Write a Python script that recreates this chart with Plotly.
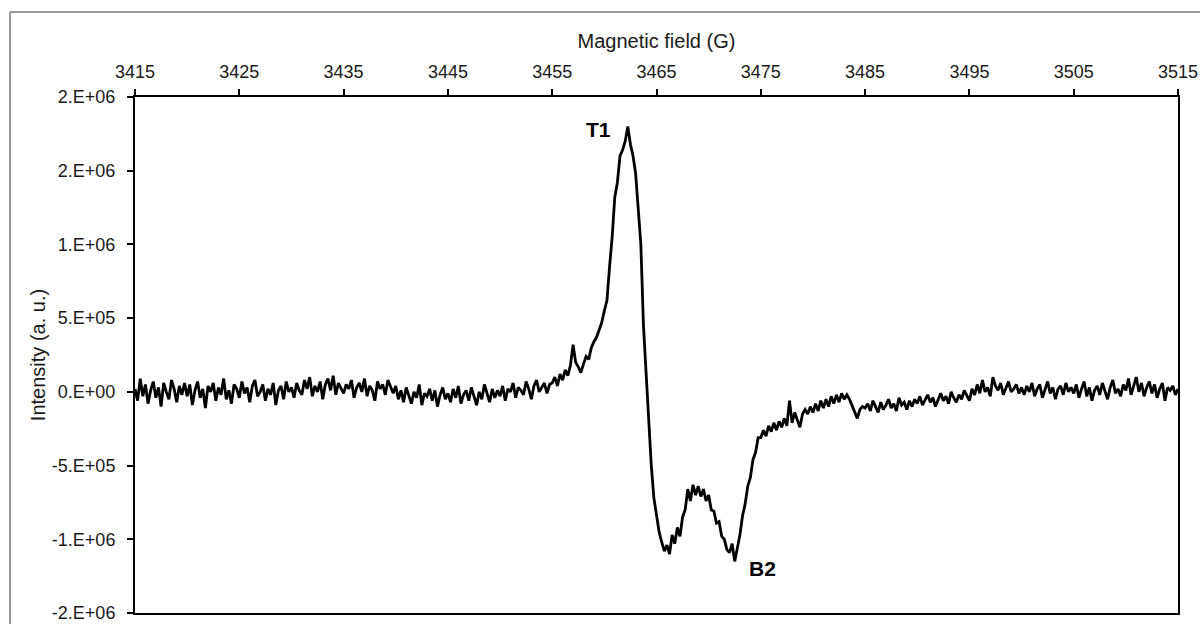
import numpy as np
import plotly.graph_objects as go

# Magnetic field grid (G), 0.25 G steps from 3415 to 3515
field_start = 3415.0
field_step = 0.25

# Intensity values in units of 1e4 a.u.
seg_baseline_left = [
    2, -6, 9, -3, 5, -8, 1, 7, -4, 3, -10, 6, 0, -5, 8, 2, -7, 4, -2, 6,
    -3, 5, -9, 1, 7, -4, 2, -11, 4, 0, 6, -6, 3, -2, 9, -5, 1, -8, 5, 2,
    -4, 7, -1, 3, -7, 4, 8, -3, 0, 5, -6, 2, -2, 6, -9, 1, 4, -5, 7, 0,
    3, -4, 6, 1, -2, 8, 2, 10, -3, 4, 0, 7, -5, 5, 9, 1, 11, -2, 6, 3,
    -1, 5, 2, 8, -4, 3, 6, 0, 9, -3, 4, 1, -6, 7, 2, 5, -2, 8, 3, -1,
    4, -5, 1, -7, 3, -2, -8, 0, -4, 5, -9, -1, -3, 2, -6, 1, -10, -2, 3, -5,
    -1, -7, 2, -4, 4, -8, -2, 1, -6, 3, -3, -9, 0, -5, 5, -2, -7, 2, -4, 1,
    -3, 4, -6, 2, 0, 6, -4, 3, 1, -2, 7, 2, -5, 4, 8, 0, 3, 6, -1, 5,
]
seg_rise = [
    6, 10, 4, 12, 8, 15, 11, 18, 32, 20, 17, 13, 19, 24, 22, 30, 34, 37, 42, 47,
]
seg_peak = [
    55, 62, 85, 105, 132, 142, 160, 164, 170, 180, 168, 160, 148, 125, 100, 45, 10, -20, -50, -72,
]
seg_trough = [
    -85, -95, -102, -108, -104, -110, -97, -103, -92, -98,
    -85, -80, -66, -74, -63, -70, -64, -71, -66, -74,
    -70, -80, -81, -89, -88, -98, -100, -107, -109, -103,
    -115, -106, -97, -84, -76, -64, -58, -46, -41, -31,
]
seg_recovery = [
    -31, -26, -30, -23, -27, -21, -26, -20, -24, -18,
    -23, -6, -21, -14, -19, -24, -15, -12, -15, -10,
    -14, -8, -13, -6, -11, -5, -10, -3, -8, -2,
    -7, -1, -5, -2, -5, -9, -13, -18, -12, -10,
]
seg_baseline_right = [
    -11, -8, -13, -6, -10, -14, -7, -12, -9, -5, -11, -8, -13, -4, -9, -7, -12, -6, -10, -5,
    -8, -3, -9, -6, -2, -7, -4, -10, -5, -1, -6, -3, -8, 0, -4, -7, -2, -5, 1, -3,
    -6, 2, -2, 5, -1, 8, 0, 3, -3, 10, 4, 1, 6, -2, 3, 7, 0, 2, 5, -1,
    3, -2, 4, 0, 6, -3, 2, 5, -4, 1, 7, -1, 3, -5, 2, 4, -2, 6, 0, 3,
    -1, 5, -4, 2, 7, -3, 3, -6, 1, 4, -2, 6, 0, -5, 3, 8, -1, 2, -3, 5,
    1, 9, -2, 4, 10, 0, 6, -3, 3, 7, -1, 5, -4, 2, 6, -6, 3, 1, 4, -2, 2,
]

x_ticks = [3415, 3425, 3435, 3445, 3455, 3465, 3475, 3485, 3495, 3505, 3515]
y_ticks = [-1.5e6, -1.0e6, -5e5, 0, 5e5, 1.0e6, 1.5e6, 2.0e6]
y_tick_labels = ["-2.E+06", "-1.E+06", "-5.E+05", "0.E+00", "5.E+05", "1.E+06", "2.E+06", "2.E+06"]

peak_labels = ["T1", "B2"]
peak_label_x = [3459.4, 3475.2]
peak_label_y = [1.78e6, -1.20e6]

intensity = np.array(seg_baseline_left + seg_rise + seg_peak + seg_trough
                     + seg_recovery + seg_baseline_right, dtype=float) * 1e4
field = field_start + field_step * np.arange(len(intensity))

FONT = "Liberation Sans, Arial, sans-serif"

fig = go.Figure()
fig.add_trace(go.Scatter(x=field, y=intensity, mode="lines",
                         line=dict(color="black", width=2.8), showlegend=False))

for t, ax_, ay_ in zip(peak_labels, peak_label_x, peak_label_y):
    fig.add_annotation(x=ax_, y=ay_, text="<b>%s</b>" % t, showarrow=False,
                       font=dict(family=FONT, size=21, color="black"))

tick_font = dict(family=FONT, size=18, color="#1a1a1a")
title_font = dict(family=FONT, size=20, color="#1a1a1a")

fig.update_layout(
    width=1200, height=624,
    margin=dict(l=135, r=22, t=97, b=11, autoexpand=False),
    paper_bgcolor="white", plot_bgcolor="white",
    xaxis=dict(side="top", range=[3415, 3515], tickvals=x_ticks,
               showline=True, linecolor="black", linewidth=2, mirror=True,
               ticks="outside", ticklen=6, tickwidth=1.5, tickcolor="black",
               ticklabelstandoff=4,
               showgrid=False, zeroline=False, tickfont=tick_font,
               title=dict(text="Magnetic field (G)", font=title_font, standoff=8)),
    yaxis=dict(range=[-1.5e6, 2.0e6], tickvals=y_ticks, ticktext=y_tick_labels,
               showline=True, linecolor="black", linewidth=2, mirror=True,
               ticks="outside", ticklen=6, tickwidth=1.5, tickcolor="black",
               ticklabelstandoff=8,
               showgrid=False, zeroline=False, tickfont=tick_font,
               title=dict(text="Intensity (a. u.)", font=title_font, standoff=1)),
    shapes=[
        dict(type="line", xref="paper", yref="paper", x0=-0.1198, x1=1.03, y0=1.1647, y1=1.1647,
             line=dict(color="#777", width=1.5)),
        dict(type="line", xref="paper", yref="paper", x0=-0.1198, x1=-0.1198, y0=-0.03, y1=1.1647,
             line=dict(color="#777", width=1.5)),
    ],
)

fig.write_html(
    "out.html",
    config={"displayModeBar": False},
    post_script="document.body.style.margin='0';document.body.style.overflow='hidden';",
)
